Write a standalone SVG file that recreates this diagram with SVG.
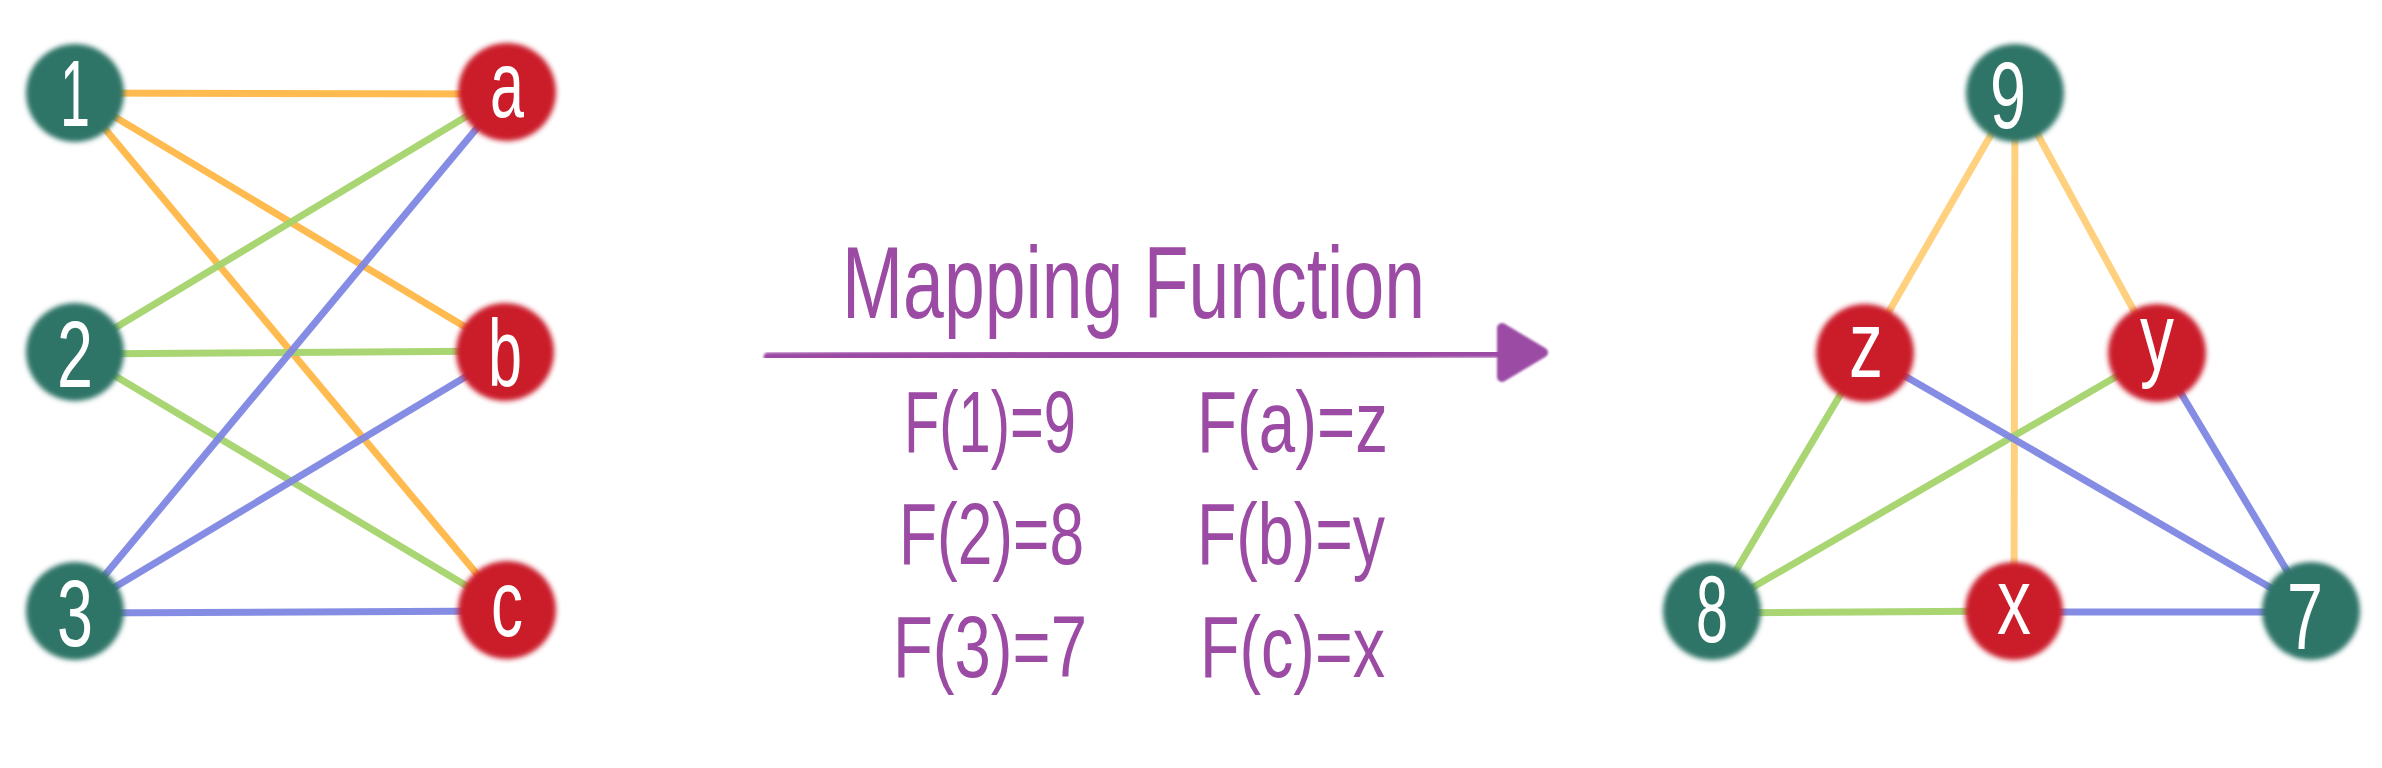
<svg xmlns="http://www.w3.org/2000/svg" width="2382" height="768" viewBox="0 0 2382 768">
  <defs>
    <filter id="soft" x="-20%" y="-20%" width="140%" height="140%">
      <feGaussianBlur stdDeviation="2.4"/>
    </filter>
    <filter id="soft2" x="-20%" y="-20%" width="140%" height="140%">
      <feGaussianBlur stdDeviation="1.2"/>
    </filter>
  </defs>
  <style>
    .g { fill: #2F7467; filter: url(#soft); }
    .r { fill: #CB1C2A; filter: url(#soft); }
    .lbl { fill: #ffffff; font-family: "Liberation Sans", Arial, sans-serif; font-size: 94px; text-anchor: middle; }
    .e { stroke-width: 7; stroke-linecap: butt; fill: none; }
    .o { stroke: #FFB43C; opacity: 0.9; }
    .o2 { stroke: #FFD17F; }
    .gr { stroke: #A4D46B; opacity: 0.95; }
    .b { stroke: #7E86E2; opacity: 0.95; }
    .pt { fill: #9C4BA5; font-family: "Liberation Sans", Arial, sans-serif; }
  </style>
  <rect width="2382" height="768" fill="#ffffff"/>

  <g id="connectors">
    <line class="e o" x1="75" y1="93" x2="507" y2="94"/>
    <line class="e o" x1="75" y1="93" x2="507" y2="352"/>
    <line class="e o" x1="75" y1="93" x2="507" y2="610"/>
    <line class="e gr" x1="75" y1="352" x2="507" y2="92"/>
    <line class="e gr" x1="75" y1="354" x2="507" y2="351"/>
    <line class="e gr" x1="75" y1="352" x2="507" y2="610"/>
    <line class="e b" x1="75" y1="611" x2="507" y2="92"/>
    <line class="e b" x1="75" y1="611" x2="507" y2="352"/>
    <line class="e b" x1="75" y1="613" x2="507" y2="611"/>
    <line class="e o2" x1="2015" y1="93" x2="1865" y2="353"/>
    <line class="e o2" x1="2015" y1="93" x2="2014" y2="611"/>
    <line class="e o2" x1="2015" y1="93" x2="2157" y2="353"/>
    <line class="e gr" x1="1865" y1="353" x2="1712" y2="611"/>
    <line class="e gr" x1="2157" y1="353" x2="1712" y2="611"/>
    <line class="e gr" x1="1712" y1="613" x2="2014" y2="611"/>
    <line class="e b" x1="1865" y1="353" x2="2311" y2="611"/>
    <line class="e b" x1="2157" y1="353" x2="2311" y2="611"/>
    <line class="e b" x1="2014" y1="612" x2="2311" y2="612"/>
    <g id="mapping-arrow">
      <line x1="768" y1="357" x2="1505" y2="353" stroke="#9C4BA5" stroke-width="9" stroke-linecap="round" filter="url(#soft2)"/>
      <polygon points="1502,328 1502,377 1543,352.5" fill="#9C4BA5" stroke="#9C4BA5" stroke-width="10" stroke-linejoin="round" filter="url(#soft2)"/>
    </g>
  </g>

  <g id="node-1"><circle class="g" cx="75" cy="93" r="49"/><text class="lbl" x="75" y="126" textLength="30" lengthAdjust="spacingAndGlyphs">1</text></g>
  <g id="node-2"><circle class="g" cx="75" cy="352" r="49"/><text class="lbl" x="75" y="387" textLength="36" lengthAdjust="spacingAndGlyphs">2</text></g>
  <g id="node-3"><circle class="g" cx="75" cy="611" r="49"/><text class="lbl" x="75" y="646" textLength="36" lengthAdjust="spacingAndGlyphs">3</text></g>
  <g id="node-a"><circle class="r" cx="507" cy="92" r="49"/><text class="lbl" x="507" y="117" textLength="34" lengthAdjust="spacingAndGlyphs">a</text></g>
  <g id="node-b"><circle class="r" cx="505" cy="352" r="49"/><text class="lbl" x="505" y="386" textLength="34" lengthAdjust="spacingAndGlyphs">b</text></g>
  <g id="node-c"><circle class="r" cx="507" cy="610" r="49"/><text class="lbl" x="507" y="636" textLength="32" lengthAdjust="spacingAndGlyphs">c</text></g>

  <g id="node-9"><circle class="g" cx="2015" cy="93" r="49"/><text class="lbl" x="2008" y="128" textLength="36" lengthAdjust="spacingAndGlyphs">9</text></g>
  <g id="node-z"><circle class="r" cx="1865" cy="353" r="49"/><text class="lbl" x="1866" y="377" textLength="34" lengthAdjust="spacingAndGlyphs">z</text></g>
  <g id="node-y"><circle class="r" cx="2157" cy="353" r="49"/><text class="lbl" x="2157" y="369" textLength="34" lengthAdjust="spacingAndGlyphs">y</text></g>
  <g id="node-8"><circle class="g" cx="1712" cy="611" r="49"/><text class="lbl" x="1712" y="642" textLength="32" lengthAdjust="spacingAndGlyphs">8</text></g>
  <g id="node-x"><circle class="r" cx="2014" cy="611" r="49"/><text class="lbl" x="2014" y="634" textLength="34" lengthAdjust="spacingAndGlyphs">x</text></g>
  <g id="node-7"><circle class="g" cx="2311" cy="611" r="49"/><text class="lbl" x="2305" y="649" textLength="36" lengthAdjust="spacingAndGlyphs">7</text></g>

  <g id="mapping-text">
    <text class="pt" x="842" y="318" font-size="102" textLength="583" lengthAdjust="spacingAndGlyphs">Mapping Function</text>
    <text class="pt" x="904" y="452" font-size="88" textLength="172" lengthAdjust="spacingAndGlyphs">F(1)=9</text>
    <text class="pt" x="1197" y="452" font-size="88" textLength="191" lengthAdjust="spacingAndGlyphs">F(a)=z</text>
    <text class="pt" x="899" y="564" font-size="88" textLength="185" lengthAdjust="spacingAndGlyphs">F(2)=8</text>
    <text class="pt" x="1197" y="564" font-size="88" textLength="188" lengthAdjust="spacingAndGlyphs">F(b)=y</text>
    <text class="pt" x="893" y="677" font-size="88" textLength="194" lengthAdjust="spacingAndGlyphs">F(3)=7</text>
    <text class="pt" x="1200" y="677" font-size="88" textLength="185" lengthAdjust="spacingAndGlyphs">F(c)=x</text>
  </g>
</svg>
